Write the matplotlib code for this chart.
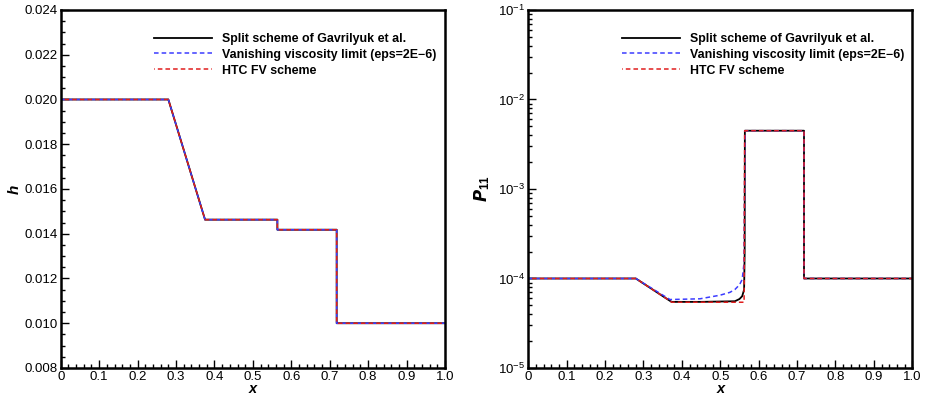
import matplotlib
matplotlib.use("Agg")
import matplotlib.pyplot as plt
from matplotlib.ticker import MultipleLocator, LogLocator, NullFormatter, FormatStrFormatter

plt.rcParams['font.family'] = ['Liberation Sans', 'DejaVu Sans']
plt.rcParams['mathtext.fontset'] = 'custom'
plt.rcParams['mathtext.rm'] = 'Liberation Sans'
plt.rcParams['mathtext.it'] = 'Liberation Sans:italic'
plt.rcParams['mathtext.bf'] = 'Liberation Sans:bold'

# ---- water depth h(x): all three solutions coincide ----
x_h = [0.0, 0.280, 0.3755, 0.5637, 0.5637, 0.718, 0.718, 1.0]
h_split = [0.020, 0.020, 0.01463, 0.01463, 0.01418, 0.01418, 0.010, 0.010]
h_visc = [0.020, 0.020, 0.01463, 0.01463, 0.01418, 0.01418, 0.010, 0.010]
h_htc = [0.020, 0.020, 0.01463, 0.01463, 0.01418, 0.01418, 0.010, 0.010]

# ---- stress component P11(x) ----
x_p_split = [0.0, 0.280, 0.373, 0.450, 0.538, 0.550, 0.557, 0.562, 0.5635, 0.5640, 0.718, 0.718, 1.0]
p_split = [1.0e-4, 1.0e-4, 5.48e-5, 5.48e-5, 5.57e-5, 5.9e-5, 6.34e-5, 7.5e-5, 2.0e-4, 4.48e-3, 4.48e-3, 1.0e-4, 1.0e-4]

x_p_visc = [0.0, 0.280, 0.369, 0.447, 0.499, 0.525, 0.538, 0.550, 0.557, 0.562, 0.5645, 0.718, 0.718, 1.0]
p_visc = [1.0e-4, 1.0e-4, 5.82e-5, 5.93e-5, 6.5e-5, 7.0e-5, 7.53e-5, 8.5e-5, 9.75e-5, 1.51e-4, 4.48e-3, 4.48e-3, 1.0e-4, 1.0e-4]

x_p_htc = [0.0, 0.280, 0.374, 0.562, 0.5635, 0.718, 0.718, 1.0]
p_htc = [1.0e-4, 1.0e-4, 5.43e-5, 5.43e-5, 4.48e-3, 4.48e-3, 1.0e-4, 1.0e-4]

labels = ["Split scheme of Gavrilyuk et al.",
          "Vanishing viscosity limit (eps=2E\u22126)",
          "HTC FV scheme"]

BLACK = "#000000"
BLUE = "#3c3cff"
RED = "#e01e1e"

fig = plt.figure(figsize=(9.26, 4.01), dpi=100)
ax1 = fig.add_axes([0.0656, 0.0823, 0.415, 0.8928])
ax2 = fig.add_axes([0.5705, 0.0823, 0.4147, 0.8928])


class XTickFormatter(matplotlib.ticker.Formatter):
    def __call__(self, v, pos=None):
        if abs(v) < 1e-9:
            return "0"
        return f"{v:.1f}"


def style_axis(ax):
    for s in ax.spines.values():
        s.set_linewidth(1.8)
    ax.tick_params(which='both', direction='in', top=False, right=False,
                   labelsize=9.5, width=1.0, pad=2.5)
    ax.tick_params(which='major', length=6)
    ax.tick_params(which='minor', length=3)
    ax.xaxis.set_major_locator(MultipleLocator(0.1))
    ax.xaxis.set_minor_locator(MultipleLocator(0.02))
    ax.xaxis.set_major_formatter(XTickFormatter())
    ax.set_xlim(0, 1)
    ax.set_xlabel("x", fontsize=10.5, fontweight='bold', fontstyle='italic', labelpad=-1)


def legend(ax):
    return ax.legend(loc='upper left', bbox_to_anchor=(0.23, 0.95), frameon=False,
                     prop={'weight': 'bold', 'size': 8.9}, handlelength=4.7,
                     handletextpad=0.8, labelspacing=0.32, borderaxespad=0)


# left panel: h
ax1.plot(x_h, h_split, color=BLACK, lw=1.3, label=labels[0])
ax1.plot(x_h, h_visc, color=BLUE, lw=1.1, ls=(0, (3, 2)), label=labels[1])
ax1.plot(x_h, h_htc, color=RED, lw=1.1, ls=(2.5, (3, 2)), label=labels[2])
style_axis(ax1)
ax1.set_ylim(0.008, 0.024)
ax1.yaxis.set_major_locator(MultipleLocator(0.002))
ax1.yaxis.set_minor_locator(MultipleLocator(0.0005))
ax1.yaxis.set_major_formatter(FormatStrFormatter('%.3f'))
ax1.set_ylabel("h", fontsize=11, fontweight='bold', fontstyle='italic', labelpad=2)
legend(ax1)

# right panel: P11 on a log scale
ax2.plot(x_p_split, p_split, color=BLACK, lw=1.3, label=labels[0])
ax2.plot(x_p_visc, p_visc, color=BLUE, lw=1.1, ls=(0, (3, 2)), label=labels[1])
ax2.plot(x_p_htc, p_htc, color=RED, lw=1.1, ls=(2.5, (3, 2)), label=labels[2])
ax2.set_yscale('log')
style_axis(ax2)
ax2.set_ylim(1e-5, 1e-1)
ax2.yaxis.set_major_locator(LogLocator(base=10, numticks=10))
ax2.yaxis.set_minor_locator(LogLocator(base=10, subs=range(2, 10), numticks=20))
ax2.yaxis.set_minor_formatter(NullFormatter())
ax2.set_ylabel(r"$\mathbfit{P}_{\mathbf{11}}$", fontsize=12, labelpad=4)
legend(ax2)

fig.savefig("out.png", dpi=100)
